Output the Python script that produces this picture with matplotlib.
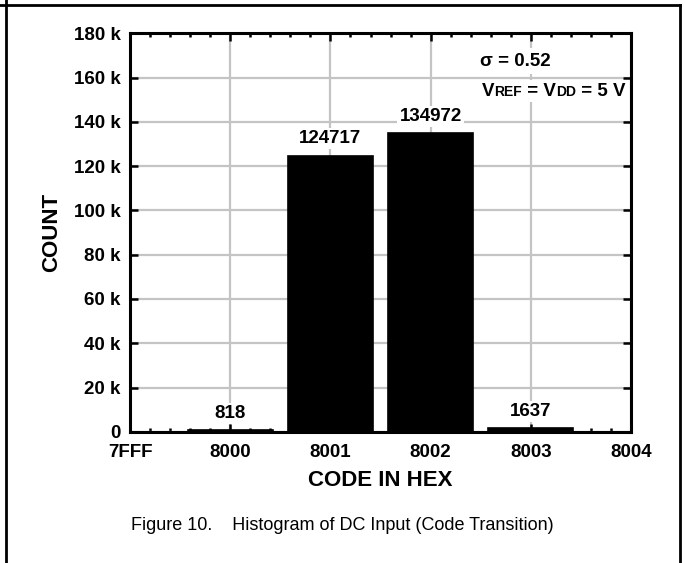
import matplotlib
matplotlib.use("Agg")
import matplotlib.pyplot as plt
from matplotlib.lines import Line2D
from matplotlib.offsetbox import TextArea, HPacker, AnchoredOffsetbox
from matplotlib.ticker import MultipleLocator, FuncFormatter

# data
codes = ["7FFF", "8000", "8001", "8002", "8003", "8004"]
bar_pos = [1, 2, 3, 4]
counts = [818, 124717, 134972, 1637]

sans = ["Liberation Sans", "DejaVu Sans"]
plt.rcParams["font.family"] = sans
plt.rcParams["font.weight"] = "bold"

fig = plt.figure(figsize=(6.85, 5.63), dpi=100)
ax = fig.add_axes([0.190, 0.233, 0.731, 0.708])

ax.bar(bar_pos, counts, width=0.85, color="black", edgecolor="black", linewidth=1.2, zorder=3)

ax.set_xlim(0, 5)
ax.set_ylim(0, 180000)
ax.set_xticks(range(len(codes)))
ax.set_xticklabels(codes)
ax.xaxis.set_minor_locator(MultipleLocator(0.2))
ax.yaxis.set_major_locator(MultipleLocator(20000))
ax.yaxis.set_major_formatter(FuncFormatter(lambda v, p: "0" if v == 0 else "%d k" % (v / 1000)))

ax.grid(True, which="major", color="#c4c4c4", linewidth=1.6, zorder=0)
ax.set_axisbelow(True)
ax.tick_params(which="both", direction="in", top=True, right=True, labelsize=13.5, width=1.8)
ax.tick_params(which="major", length=6)
ax.tick_params(axis="x", which="major", pad=9)
ax.tick_params(axis="y", which="major", pad=7)
ax.tick_params(which="minor", length=3)
for s in ax.spines.values():
    s.set_linewidth(2.2)
    s.set_zorder(5)

for x, c in zip(bar_pos, counts):
    ax.annotate(str(c), (x, c), xytext=(0, 6), textcoords="offset points",
                ha="center", va="bottom", fontsize=13.5, fontweight="bold", zorder=4,
                bbox=dict(facecolor="white", edgecolor="none", pad=1.5))

ax.set_ylabel("COUNT", fontsize=16, fontweight="bold", labelpad=8)
ax.set_xlabel("CODE IN HEX", fontsize=16, fontweight="bold", labelpad=6)

ax.text(0.77, 0.93, "\u03c3 = 0.52", transform=ax.transAxes, ha="center", va="center",
        fontsize=13.5, fontweight="bold", zorder=6,
        bbox=dict(facecolor="white", edgecolor="none", pad=3))

big = dict(fontsize=13.5, fontweight="bold", family=sans)
small = dict(fontsize=10, fontweight="bold", family=sans)
parts = [("V", big), ("REF", small), (" = V", big), ("DD", small), (" = 5 V", big)]
vref = HPacker(children=[TextArea(t, textprops=p) for t, p in parts], align="baseline", pad=0, sep=0)
box = AnchoredOffsetbox(loc="upper right", child=vref, bbox_to_anchor=(1.0, 0.89),
                        bbox_transform=ax.transAxes, frameon=True, pad=0.2, borderpad=0.2)
box.patch.set_facecolor("white")
box.patch.set_edgecolor("none")
box.set_zorder(6)
ax.add_artist(box)

fig.text(0.5, 0.066, "Figure 10.    Histogram of DC Input (Code Transition)", ha="center", va="center",
         fontsize=13, fontweight="normal", family=sans)

# page frame
fig.add_artist(Line2D([0, 0.993], [0.991, 0.991], transform=fig.transFigure, color="black", linewidth=2))
fig.add_artist(Line2D([0.0088, 0.0088], [0, 1], transform=fig.transFigure, color="black", linewidth=2))
fig.add_artist(Line2D([0.993, 0.993], [0, 0.991], transform=fig.transFigure, color="black", linewidth=2))

fig.savefig("out.png", dpi=100)
